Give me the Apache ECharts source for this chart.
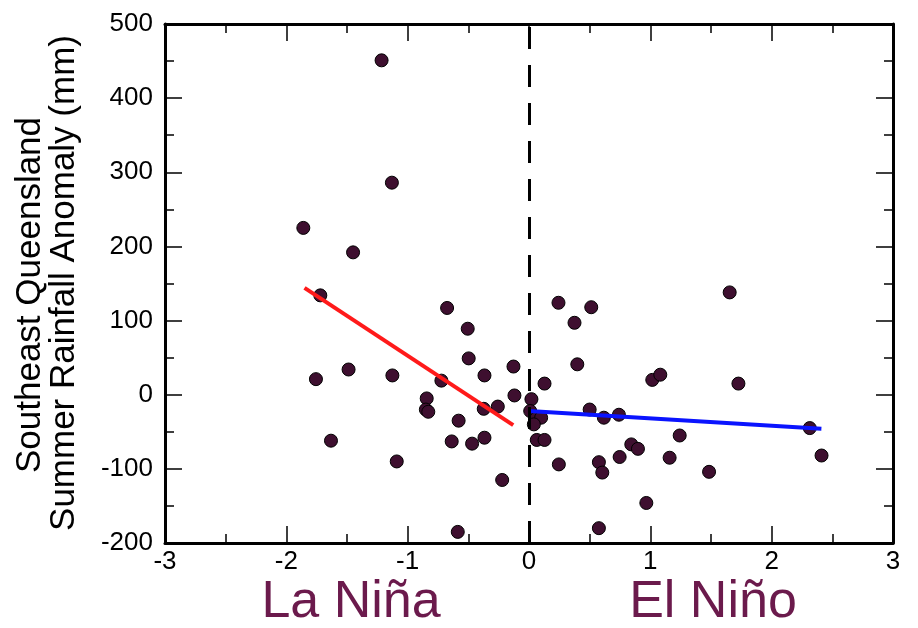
<!DOCTYPE html>
<html>
<head>
<meta charset="utf-8">
<script src="https://cdn.jsdelivr.net/npm/echarts@6/dist/echarts.min.js"></script>
<style>
  html, body { margin: 0; padding: 0; background: #fff; }
  #chart { width: 918px; height: 628px; }
</style>
</head>
<body>
<div id="chart"></div>
<script>
// La Niña years (negative index)
var laninaX = [-1.215, -1.13, -1.86, -1.45, -1.72, -0.675, -0.505, -0.497, -0.128, -1.487,
               -1.756, -1.126, -0.367, -0.722, -0.12, -0.843, -0.85, -0.83, -0.373, -0.257,
               -0.58, -1.632, -0.637, -0.469, -0.367, -1.09, -0.221, -0.587];
var laninaY = [451, 286, 225, 192, 134, 117, 89, 49, 38, 34,
               21, 26, 26, 19, -1, -5, -20, -23, -19, -16,
               -35, -62, -63, -66, -58, -90, -115, -185];
// El Niño years (positive index)
var elninoX = [0.243, 0.513, 0.375, 1.654, 0.398, 0.128, 1.016, 1.082, 1.726, 0.02,
               0.01, 0.06, 0.1, 0.04, 0.5, 0.617, 0.741, 2.314, 0.064, 0.128,
               1.242, 0.843, 0.898, 0.747, 1.159, 2.411, 0.246, 0.576, 0.604, 1.484,
               0.967, 0.576];
var elninoY = [124, 118, 97, 138, 41, 15, 20, 27, 15, -6,
               -22, -32, -31, -40, -20, -31, -27, -45, -61, -61,
               -55, -67, -73, -84, -85, -82, -94, -91, -105, -104,
               -146, -180];
// fitted lines (end points)
var laninaFitX = [-1.85, -0.13];
var laninaFitY = [144, -41];
var elninoFitX = [0.0, 2.41];
var elninoFitY = [-22, -46];

var xTicks = { min: -3, max: 3, step: 1 };
var yTicks = { min: -200, max: 500, step: 100 };

function pairs(xs, ys) {
    return xs.map(function (x, i) { return [x, ys[i]]; });
}

var font = 'Liberation Sans, Arial, sans-serif';
var labelColor = '#6b1a4c';

function axis(kind, pos, showLabel, range) {
    return {
        type: 'value',
        position: pos,
        min: range.min,
        max: range.max,
        interval: range.step,
        axisLine: { show: true, onZero: false, lineStyle: { color: '#000', width: 3 } },
        axisTick: { show: true, inside: true, length: 17, lineStyle: { color: '#000', width: 1.5 } },
        minorTick: { show: true, splitNumber: 2, length: 9, lineStyle: { color: '#000', width: 1.5 } },
        splitLine: { show: false },
        axisLabel: {
            show: showLabel,
            color: '#000',
            fontFamily: font,
            fontSize: 26,
            margin: kind === 'x' ? 6 : 12
        }
    };
}

var chart = echarts.init(document.getElementById('chart'));
chart.setOption({
    backgroundColor: '#fff',
    animation: false,
    grid: { left: 165, right: 25, top: 24, bottom: 85 },
    xAxis: [axis('x', 'bottom', true, xTicks), axis('x', 'top', false, xTicks)],
    yAxis: [axis('y', 'left', true, yTicks), axis('y', 'right', false, yTicks)],
    graphic: [
        {
            type: 'text', x: 30, y: 295, rotation: Math.PI / 2,
            style: { text: 'Southeast Queensland', font: '35px ' + font, fill: '#000',
                     align: 'center', verticalAlign: 'middle' }
        },
        {
            type: 'text', x: 64, y: 283, rotation: Math.PI / 2,
            style: { text: 'Summer Rainfall Anomaly (mm)', font: '35px ' + font, fill: '#000',
                     align: 'center', verticalAlign: 'middle' }
        },
        {
            type: 'text', x: 351, y: 603,
            style: { text: 'La Niña', font: '52px ' + font, fill: labelColor,
                     align: 'center', verticalAlign: 'middle' }
        },
        {
            type: 'text', x: 713, y: 603,
            style: { text: 'El Niño', font: '52px ' + font, fill: labelColor,
                     align: 'center', verticalAlign: 'middle' }
        }
    ],
    series: [
        {
            type: 'line',
            data: [],
            z: 1,
            markLine: {
                silent: true,
                symbol: 'none',
                label: { show: false },
                lineStyle: { color: '#000', width: 3, type: [22, 16] },
                data: [{ xAxis: 0 }]
            }
        },
        {
            type: 'scatter',
            z: 2,
            symbolSize: 13,
            itemStyle: { color: '#3e0f2f', borderColor: '#000', borderWidth: 1, opacity: 1 },
            data: pairs(laninaX, laninaY).concat(pairs(elninoX, elninoY))
        },
        {
            type: 'line',
            z: 3,
            showSymbol: false,
            lineStyle: { color: '#ff1a1a', width: 4 },
            data: pairs(laninaFitX, laninaFitY)
        },
        {
            type: 'line',
            z: 3,
            showSymbol: false,
            lineStyle: { color: '#0a14ff', width: 4 },
            data: pairs(elninoFitX, elninoFitY)
        }
    ]
});
</script>
</body>
</html>
